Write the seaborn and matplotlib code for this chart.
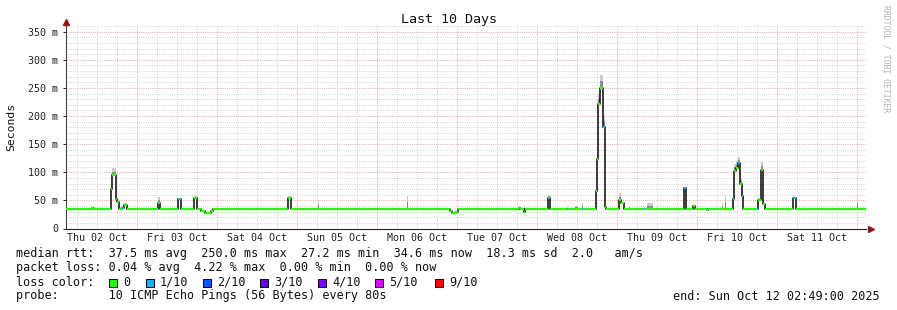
import matplotlib
matplotlib.use("Agg")
import numpy as np
import pandas as pd
import matplotlib.pyplot as plt
import seaborn as sns
from matplotlib.patches import Rectangle

# ---------------- data (hours since Thu 02 Oct 00:00) ----------------
start_h = 2.8167
end_h = 242.8167

seg_start_h = [2.82, 10.5, 11.1, 16.2, 16.7, 17.7, 18.2, 18.7, 19.7, 20.2,
               21.0, 28.8, 29.1, 30.3, 30.9, 36.3, 37.2, 41.3, 42.0, 43.2,
               44.4, 46.4, 47.0, 69.0, 69.3, 70.2, 78.3, 78.6, 105.0, 105.3,
               117.9, 118.5, 119.1, 119.7, 120.3, 138.6, 139.0, 140.3, 140.6, 147.5,
               148.0, 153.0, 153.3, 155.5, 156.5, 157.5, 157.9, 161.7, 162.0, 162.5,
               163.1, 163.8, 164.4, 164.7, 168.8, 169.4, 170.1, 171.6, 171.9, 176.1,
               176.4, 177.0, 179.0, 188.3, 188.7, 190.8, 191.4, 195.0, 195.3, 199.5,
               199.8, 200.4, 200.7, 202.8, 203.3, 203.8, 204.3, 205.0, 205.5, 206.0,
               210.2, 210.5, 211.3, 211.9, 212.4, 221.0, 221.7, 240.0, 240.3]

median_ms = [35, 36.5, 35, 71, 95, 53, 47, 34, 36, 41,
             35, 35, 35, 45, 35, 52, 35, 55, 35, 32,
             27, 32, 35, 35, 55, 35, 35, 35, 35, 35,
             31, 28, 27, 30, 35, 37, 35, 30, 35, 55,
             35, 35, 35, 35, 35, 35, 35, 66, 123, 222,
             250, 181, 38, 35, 50, 46, 35, 35, 35, 35,
             35, 35, 35, 72, 35, 40, 35, 33, 35, 35,
             35, 35, 35, 52, 103, 107, 117, 80, 58, 35,
             35, 50, 104, 43, 35, 55, 35, 35, 35]

smoke_top_ms = [35, 38, 35, 78, 107, 60, 52, 38, 40, 45,
                35, 35, 35, 56, 35, 53, 35, 57, 35, 32,
                27, 32, 35, 35, 58, 35, 50, 35, 58, 35,
                31, 28, 27, 30, 35, 40, 35, 30, 35, 59,
                35, 38, 35, 40, 35, 45, 35, 75, 140, 240,
                273, 200, 45, 35, 63, 48, 35, 40, 35, 38,
                35, 45, 35, 72, 35, 42, 35, 33, 35, 45,
                35, 60, 35, 55, 115, 120, 128, 90, 62, 35,
                35, 55, 119, 48, 35, 55, 35, 54, 35]

loss_level = [0, 0, 0, 0, 0, 0, 0, 0, 1, 0,
              0, 1, 0, 0, 0, 1, 0, 0, 0, 0,
              0, 0, 0, 1, 0, 0, 0, 0, 0, 0,
              0, 0, 0, 0, 0, 0, 0, 0, 0, 1,
              0, 1, 0, 0, 0, 1, 0, 0, 0, 0,
              0, 1, 0, 0, 0, 0, 0, 0, 0, 1,
              0, 0, 0, 1, 0, 0, 0, 0, 0, 0,
              0, 1, 0, 1, 0, 0, 1, 0, 1, 0,
              1, 0, 0, 0, 0, 1, 0, 0, 0]

loss_labels = ["0", "1/10", "2/10", "3/10", "4/10", "5/10", "9/10"]
loss_colors = ["#26ff00", "#00b8ff", "#0059ff", "#5e00ff", "#7e00ff", "#dd00ff", "#ff0000"]

day_labels = ["Thu 02 Oct", "Fri 03 Oct", "Sat 04 Oct", "Sun 05 Oct", "Mon 06 Oct",
              "Tue 07 Oct", "Wed 08 Oct", "Thu 09 Oct", "Fri 10 Oct", "Sat 11 Oct"]
y_ticks = [0, 50, 100, 150, 200, 250, 300, 350]
y_tick_labels = ["0", "50 m", "100 m", "150 m", "200 m", "250 m", "300 m", "350 m"]

legend_lines = [
    "median rtt:  37.5 ms avg  250.0 ms max  27.2 ms min  34.6 ms now  18.3 ms sd  2.0   am/s",
    "packet loss: 0.04 % avg  4.22 % max  0.00 % min  0.00 % now",
    "loss color:",
    "probe:       10 ICMP Echo Pings (56 Bytes) every 80s",
]
end_text = "end: Sun Oct 12 02:49:00 2025"

# ---------------- style ----------------
sns.set_theme(style="white")
plt.rcParams['font.family'] = ['DejaVu Sans Mono', 'DejaVu Sans']

W, H = 897, 310
fig = plt.figure(figsize=(W / 100, H / 100), dpi=100)
fig.patch.set_facecolor("white")
ax = fig.add_axes([66 / W, (H - 228.5) / H, 800 / W, (228.5 - 26) / H])
ax.set_facecolor("white")

ax.set_xlim(start_h, end_h)
ax.set_ylim(0, 360)

# grid
dot = (0, (1, 1.2))
for yv in np.arange(10, 361, 10):
    major = (yv % 50 == 0)
    ax.axhline(yv, color="#f4a8a8" if major else "#d6d6d6", lw=0.72, ls=dot, zorder=1)
for xv in np.arange(6, 246, 6):
    if start_h < xv < end_h:
        major = (xv % 24 == 0)
        ax.axvline(xv, color="#f4a8a8" if major else "#d6d6d6", lw=0.72, ls=dot, zorder=1)

# step data
t = np.array(seg_start_h + [end_h])
med = np.array(median_ms + [median_ms[-1]], dtype=float)
smk = np.array(smoke_top_ms + [smoke_top_ms[-1]], dtype=float)
mid = med + (smk - med) * 0.5

ax.fill_between(t, med, smk, step="post", color="#cacaca", lw=0, zorder=2)
ax.fill_between(t, med, mid, step="post", color="#8c8c8c", lw=0, zorder=2)

df = pd.DataFrame({"hours": t, "rtt": med})
sns.lineplot(data=df, x="hours", y="rtt", estimator=None, sort=False,
             drawstyle="steps-post", color="#1a1a1a", lw=1.2, ax=ax, zorder=3)

for i in range(len(seg_start_h)):
    ax.hlines(median_ms[i], t[i], t[i + 1], colors=loss_colors[loss_level[i]],
              lw=1.6, zorder=4)

# axes / ticks
ax.set_xlabel("")
ax.set_ylabel("")
for s in ["top", "right"]:
    ax.spines[s].set_visible(False)
ax.spines["left"].set_color("#404040")
ax.spines["bottom"].set_color("#202020")
ax.spines["left"].set_linewidth(0.8)
ax.spines["bottom"].set_linewidth(0.8)

ax.set_yticks(y_ticks)
ax.set_yticklabels(y_tick_labels)
ax.set_xticks([12 + 24 * k for k in range(len(day_labels))])
ax.set_xticklabels(day_labels)
ax.tick_params(axis="y", length=2, width=0.7, pad=3.5, labelsize=7.2, colors="#222222",
               direction="out", left=True)
ax.tick_params(axis="x", length=0, pad=3.5, labelsize=7.2, colors="#222222")

# arrows
ax.plot([0], [1.018], marker="^", color="#8b1a1a", ms=4.5, transform=ax.transAxes,
        clip_on=False, zorder=6)
ax.plot([1.006], [0], marker=">", color="#8b1a1a", ms=4.5, transform=ax.transAxes,
        clip_on=False, zorder=6)

# title / labels
fig.text(448.5 / W, 1 - 19 / H, "Last 10 Days", ha="center", va="center",
         fontsize=9.6, color="#111111")
fig.text(11 / W, 1 - 127 / H, "Seconds", ha="center", va="center", rotation=90,
         fontsize=8.2, color="#111111")
fig.text(886 / W, 1 - 5 / H, "RRDTOOL / TOBI OETIKER", ha="center", va="top",
         rotation=270, fontsize=5.8, color="#b4b4b4")

# legend text
ys = [254, 268, 282, 296]
for line, yp in zip(legend_lines, ys):
    fig.text(16 / W, 1 - yp / H, line, ha="left", va="center", fontsize=8.5,
             color="#111111")
fig.text(880 / W, 1 - 296 / H, end_text, ha="right", va="center", fontsize=8.5,
         color="#111111")

sw_x = [109, 146, 203, 260, 318, 375, 435]
for xp, lab, col in zip(sw_x, loss_labels, loss_colors):
    fig.patches.append(Rectangle((xp / W, (H - 286.5) / H), 8 / W, 8 / H,
                                 transform=fig.transFigure, facecolor=col,
                                 edgecolor="#000000", lw=0.7, figure=fig))
    fig.text((xp + 14) / W, 1 - 282 / H, lab, ha="left", va="center",
             fontsize=8.5, color="#111111")

fig.savefig("out.png", dpi=100)
